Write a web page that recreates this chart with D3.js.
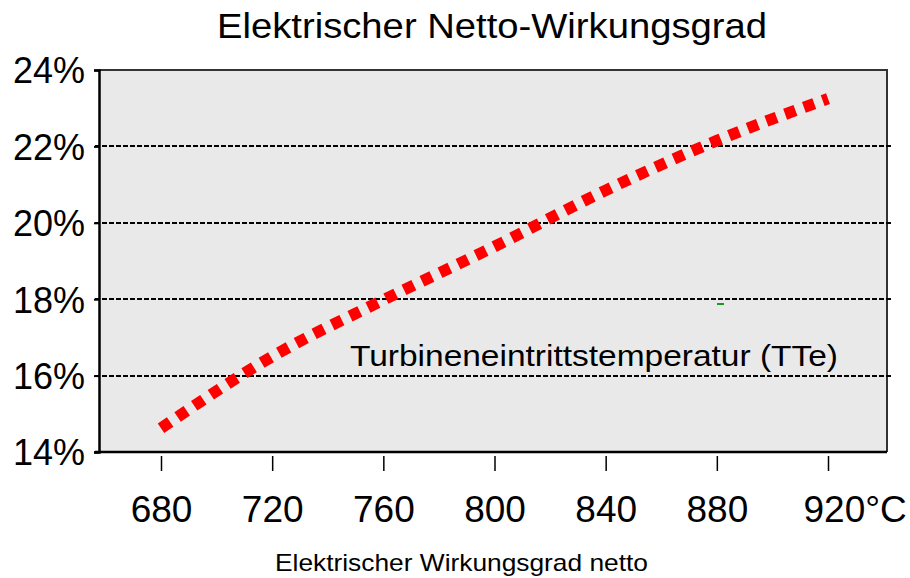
<!DOCTYPE html>
<html><head><meta charset="utf-8">
<script src="https://cdn.jsdelivr.net/npm/d3@7"></script>
<style>
html,body{margin:0;padding:0;background:#fff;}
text{font-family:"Liberation Sans",Arial,sans-serif;fill:#000;}
</style></head>
<body>
<svg id="chart" width="910" height="578"></svg>
<script>
// Data
const temperatures = [680, 720, 760, 800, 840, 880, 920];
const efficiency = [14.62, 16.5, 17.98, 19.38, 20.85, 22.15, 23.25];
const xTickLabels = ["680", "720", "760", "800", "840", "880", "920"];
const yTicks = [14, 16, 18, 20, 22, 24];
const gridValues = [16, 18, 20, 22];
const titleText = "Elektrischer Netto-Wirkungsgrad";
const subtitleText = "Elektrischer Wirkungsgrad netto";
const seriesLabel = "Turbineneintrittstemperatur (TTe)";

const svg = d3.select("#chart");
const plot = {left: 99, right: 887, top: 70, bottom: 452};

const x = d3.scaleLinear().domain([680, 920]).range([161, 828]);
const y = d3.scaleLinear().domain([14, 24]).range([plot.bottom, plot.top]);

// plot background
svg.append("rect").attr("x", plot.left).attr("y", plot.top)
  .attr("width", plot.right - plot.left).attr("height", plot.bottom - plot.top)
  .attr("fill", "#e9e9e9");

// top/right border
svg.append("path")
  .attr("d", `M${plot.left},${plot.top}H${plot.right}V${plot.bottom}`)
  .attr("fill", "none").attr("stroke", "#333").attr("stroke-width", 2);

// gridlines
svg.append("g").selectAll("line").data(gridValues).join("line")
  .attr("x1", 95).attr("x2", 893)
  .attr("y1", d => Math.round(y(d))).attr("y2", d => Math.round(y(d)))
  .attr("stroke", "#000").attr("stroke-width", 2)
  .attr("shape-rendering", "crispEdges")
  .attr("stroke-dasharray", "5,2");

// series label with background partly covering gridline
svg.append("rect").attr("x", 349).attr("y", 340).attr("width", 490).attr("height", 34)
  .attr("fill", "#e9e9e9");
svg.append("text").attr("x", 350).attr("y", 366)
  .attr("font-size", 30).attr("textLength", 488).attr("lengthAdjust", "spacingAndGlyphs")
  .text(seriesLabel);

// Y axis
const yAxis = d3.axisLeft(y).tickValues(yTicks).tickSize(5).tickFormat(d => d + "%");
const gy = svg.append("g").attr("transform", `translate(${plot.left},0)`).call(yAxis);
gy.select(".domain").attr("stroke", "#000").attr("stroke-width", 2.5);
gy.selectAll(".tick line").attr("stroke", "#000").attr("stroke-width", 2);
gy.selectAll(".tick text").attr("font-size", 36).attr("x", -14).attr("dy", "0.36em")
  .style("font-family", "Liberation Sans, Arial, sans-serif");

// bottom axis line
svg.append("line").attr("x1", 95).attr("x2", plot.right)
  .attr("y1", plot.bottom).attr("y2", plot.bottom)
  .attr("stroke", "#000").attr("stroke-width", 2.5);

// X axis (ticks detached below)
const xAxis = d3.axisBottom(x).tickValues(temperatures).tickSize(15).tickPadding(25)
  .tickFormat((d, i) => xTickLabels[i]);
const gx = svg.append("g").attr("transform", `translate(0,456)`).call(xAxis);
gx.select(".domain").remove();
gx.selectAll(".tick line").attr("stroke", "#000").attr("stroke-width", 1.5);
gx.selectAll(".tick text").attr("font-size", 37)
  .style("font-family", "Liberation Sans, Arial, sans-serif");
gx.selectAll(".tick text").filter((d, i) => i === temperatures.length - 1)
  .attr("text-anchor", "start").attr("x", -25)
  .text(xTickLabels[xTickLabels.length - 1] + "°C");

// series line
const line = d3.line().x(d => x(d[0])).y(d => y(d[1])).curve(d3.curveMonotoneX);
svg.append("path")
  .datum(temperatures.map((t, i) => [t, efficiency[i]]))
  .attr("d", line)
  .attr("fill", "none").attr("stroke", "#ff0000").attr("stroke-width", 11.5)
  .attr("stroke-dasharray", "11,9");

// small green marker
svg.append("line").attr("x1", 717).attr("x2", 724).attr("y1", 304).attr("y2", 304)
  .attr("stroke", "#1a9a1a").attr("stroke-width", 2);

// title
svg.append("text").attr("x", 217).attr("y", 38)
  .attr("font-size", 35).attr("textLength", 550).attr("lengthAdjust", "spacingAndGlyphs")
  .text(titleText);
svg.append("text").attr("x", 275).attr("y", 571)
  .attr("font-size", 24).attr("textLength", 373).attr("lengthAdjust", "spacingAndGlyphs")
  .text(subtitleText);
</script>
</body></html>
